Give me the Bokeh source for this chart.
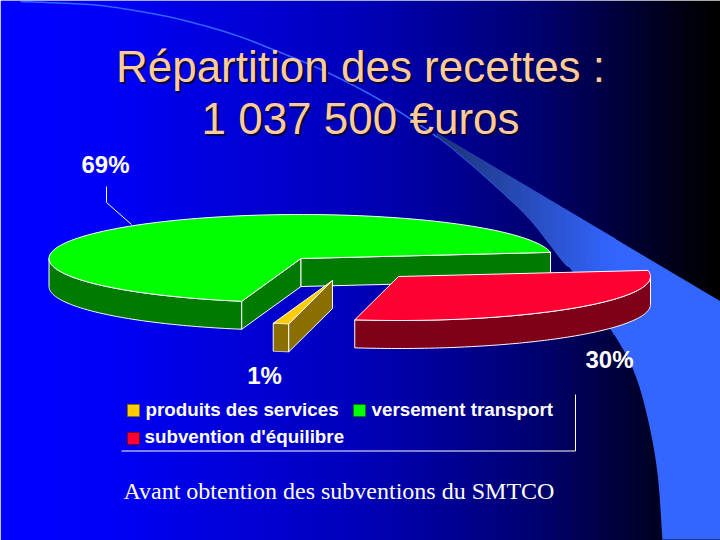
import numpy as np
from bokeh.plotting import figure
from bokeh.models import Range1d
from bokeh.core.properties import value
from bokeh.embed import file_html
from bokeh.resources import INLINE

# ---- data ----
names = ["produits des services", "versement transport", "subvention d'équilibre"]
shares = [1, 69, 30]
pct_labels = ["1%", "69%", "30%"]
title_lines = ["Répartition des recettes :", "1 037 500 €uros"]
note = "Avant obtention des subventions du SMTCO"

# ---- styling ----
top_cols = ["#FFCC00", "#00FF00", "#FF0033"]
side_cols = ["#8A6E00", "#007A00", "#7F0019"]
centers = [(332, 280), (300.5, 258), (398, 276)]
label_pos = [(264, 384), (105, 173), (609, 368)]
RX, RY, DEPTH = 252, 44, 28
START = 260

p = figure(width=720, height=540, x_range=Range1d(0, 720), y_range=Range1d(540, 0),
           output_backend="svg", toolbar_location=None, min_border=0)
p.axis.visible = False
p.grid.visible = False
p.outline_line_color = None

# background ramp (strips overlap so no seams show)
kx = [0, 100, 360, 540, 700, 720]
kb = [255, 250, 185, 110, 8, 0]
xs = np.arange(0, 720, 2)
bl = np.interp(xs + 1, kx, kb).astype(int)
p.quad(left=xs, right=xs + 3, top=0, bottom=540, line_color=None,
       fill_color=["#%02x%02x%02x" % (0, 0, b) for b in bl])

# swoosh guide curve
gx = [20, 70, 100, 140, 180, 230, 270, 327, 377, 417, 437, 463, 497, 530, 563, 573, 610, 633, 647, 657, 662]
gy = [1, 3, 5, 11, 19, 33, 48, 72, 98, 123, 137, 158, 188, 220, 262, 272, 328, 370, 417, 473, 540]


def smooth(px, py, n=12):
    px = np.r_[2 * px[0] - px[1], px, 2 * px[-1] - px[-2]].astype(float)
    py = np.r_[2 * py[0] - py[1], py, 2 * py[-1] - py[-2]].astype(float)
    ox, oy = [], []
    for i in range(1, len(px) - 2):
        for u in np.linspace(0, 1, n, endpoint=False):
            for arr, out in ((px, ox), (py, oy)):
                a, b, c, d = arr[i - 1:i + 3]
                out.append(0.5 * (2 * b + (c - a) * u + (2 * a - 5 * b + 4 * c - d) * u**2 + (3 * b - a - 3 * c + d) * u**3))
    ox.append(px[-2])
    oy.append(py[-2])
    return np.array(ox), np.array(oy)


arc_x, arc_y = smooth(gx, gy)
LIGHT = "#3366FF"
SLOPE = 0.593
TIP_X, TIP_Y = 437, 133
tip = np.searchsorted(arc_x, TIP_X)
p.patch(np.r_[TIP_X, arc_x[tip:], 720, 720], np.r_[TIP_Y, arc_y[tip:], 540, TIP_Y + (720 - TIP_X) * SLOPE],
        fill_color=LIGHT, line_color=None)
sx = np.arange(TIP_X, 614, 1)
top_line = TIP_Y + (sx + 1 - TIP_X) * SLOPE
low_line = np.interp(sx + 2, arc_x, arc_y) - 2
t = np.clip((sx - TIP_X) / 177.0, 0, 1)
cols = ["#%02x%02x%02x" % (int(30 + 21 * a), int(52 + 50 * a), int(120 + 135 * a)) for a in t]
p.quad(left=sx, right=sx + 2, top=top_line, bottom=np.maximum(low_line, top_line), fill_color=cols, line_color=None)
p.line(arc_x[:tip + 1], arc_y[:tip + 1], line_color=LIGHT, line_width=1.5)
p.line([662, 720], [539.5, 539.5], line_color="#000033", line_width=1)


def ring(c, a0, a1, drop=0, n=120):
    a = np.radians(np.linspace(a0, a1, n))
    return c[0] + RX * np.cos(a), c[1] - RY * np.sin(a) + drop


bounds = START - np.cumsum([0] + shares) * 3.6
WHITE = dict(line_color="white", line_width=1)
for i in [1, 0, 2]:
    a_hi, a_lo = bounds[i], bounds[i + 1]
    c = centers[i]
    if i == 1:
        w0, w1 = 180, a_hi
    elif i == 2:
        w0, w1 = a_lo + 360, 360
    else:
        w0, w1 = a_lo, a_hi
    tx, ty = ring(c, w0, w1)
    bx, by = ring(c, w1, w0, DEPTH)
    p.patch(np.r_[tx, bx], np.r_[ty, by], fill_color=side_cols[i], **WHITE)
    radial = {1: (a_hi, a_lo), 0: (a_hi,), 2: ()}[i]
    for ang in radial:
        ex, ey = ring(c, ang, ang, n=1)
        p.patch([c[0], ex[0], ex[0], c[0]], [c[1], ey[0], ey[0] + DEPTH, c[1] + DEPTH],
                fill_color=side_cols[i], **WHITE)
    ax, ay = ring(c, a_hi, a_lo)
    p.patch(np.r_[c[0], ax], np.r_[c[1], ay], fill_color=top_cols[i], **WHITE)

p.line([106, 106, 131], [186, 202, 224], line_color="white", line_width=1)

BASE_SHIFT = 0.385  # the svg text sits this fraction of its size below the given y


def txt(x, y, s, size, color="white", font="Liberation Sans", style="normal", align="left"):
    p.text([x], [y - BASE_SHIFT * size], text=[s], text_color=color, text_font=value(font),
           text_font_size=f"{size}px", text_font_style=style, text_align=align,
           text_baseline="alphabetic")


for lab, (lx, ly) in zip(pct_labels, label_pos):
    txt(lx, ly, lab, 24, style="bold", align="center")

for s, yb in zip(title_lines, (83, 135)):
    txt(362, yb + 2, s, 44, color="#00003C", align="center")
    txt(360, yb, s, 44, color="#FFCC99", align="center")

leg_x = [127, 353, 127]
leg_y = [404, 404, 432]
txt_x = [145, 371, 144]
txt_y = [416, 416, 443]
for k in range(3):
    p.quad(left=[leg_x[k]], right=[leg_x[k] + 12], top=[leg_y[k]], bottom=[leg_y[k] + 12],
           fill_color=top_cols[k], line_color=side_cols[k], line_width=1)
    txt(txt_x[k], txt_y[k], names[k], 18.8, style="bold")
p.line([121, 575, 575], [450.5, 450.5, 394], line_color="white", line_width=1)

txt(123, 500, note, 24, font="Liberation Serif")

open("out.html", "w").write(file_html(p, INLINE))
